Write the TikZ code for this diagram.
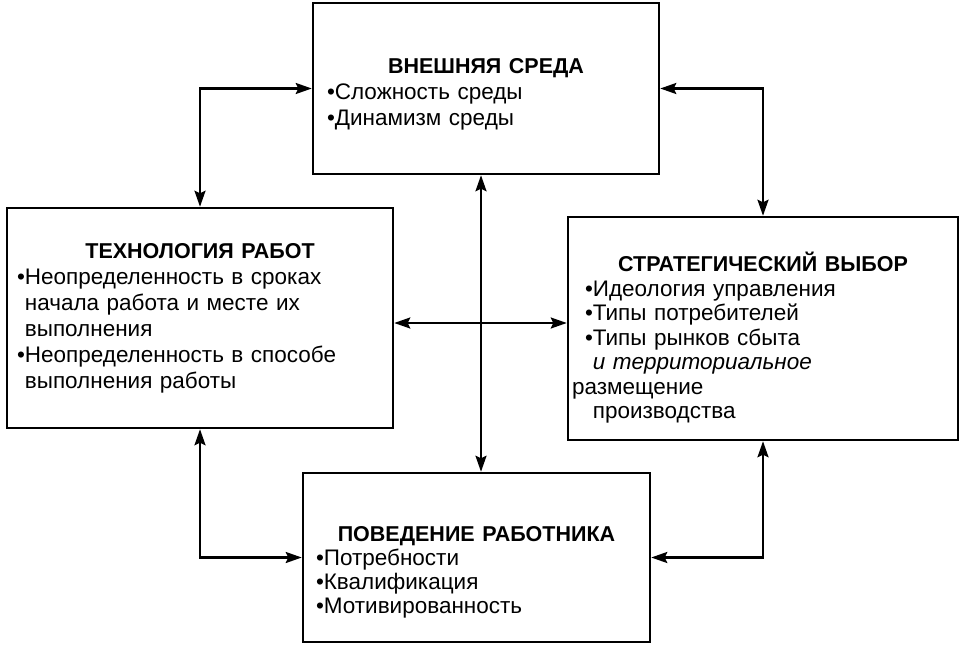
\documentclass[tikz,border=0pt]{standalone}
\usepackage{fontspec}
\setmainfont{Liberation Sans}
\usepackage{tikz}
\usetikzlibrary{arrows.meta, positioning, calc}
\definecolor{myink}{RGB}{0,0,0}
\newcommand{\boxttl}[1]{\hspace*{\fill}{\fontsize{21.5}{26}\selectfont\bfseries #1}\hspace*{\fill}\mbox{}}
\newcommand{\blt}{•}
\newcommand{\hang}{\phantom{•}}
\tikzset{
  block/.style={rectangle, draw=myink, line width=2.5pt, align=left,
    font=\fontsize{22.5}{26}\selectfont, inner ysep=4pt},
  link/.style={{Stealth[length=16pt,width=11pt,inset=2.5pt]}-{Stealth[length=16pt,width=11pt,inset=2.5pt]},
    line width=2.2pt, color=myink}
}
\begin{document}
\begin{tikzpicture}[x=1pt, y=-1pt]
  \useasboundingbox (0,0) rectangle (961,650);
  \node [block, text width=318pt, minimum height=171pt, inner xsep=14pt] (env) at (486,88.5)
    {\mbox{}\\[1pt]
     \boxttl{ВНЕШНЯЯ СРЕДА}\\
     \blt Сложность среды\\
     \blt Динамизм среды};
  \node [block, text width=366pt, minimum height=220pt, inner xsep=10pt] (tech) at (200,318)
    {\boxttl{ТЕХНОЛОГИЯ РАБОТ}\\
     \blt Неопределенность в сроках\\
     \hang начала работа и месте их\\
     \hang выполнения\\
     \blt Неопределенность в способе\\
     \hang выполнения работы};
  \node [block, text width=382pt, minimum height=223pt, inner xsep=4pt,
    font=\fontsize{22.5}{24.5}\selectfont] (strat) at (763,328.5)
    {\mbox{}\\[14pt]
     \boxttl{СТРАТЕГИЧЕСКИЙ ВЫБОР}\\
     \hspace*{13pt}\blt Идеология управления\\
     \hspace*{13pt}\blt Типы потребителей\\
     \hspace*{13pt}\blt Типы рынков сбыта\\
     \hspace*{13pt}\hang\textit{и территориальное}\\
     размещение\\
     \hspace*{13pt}\hang производства};
  \node [block, text width=321pt, minimum height=169pt, inner xsep=13pt,
    font=\fontsize{22.5}{24}\selectfont] (beh) at (476.5,557.5)
    {\mbox{}\\[20pt]
     \boxttl{ПОВЕДЕНИЕ РАБОТНИКА}\\
     \blt Потребности\\
     \blt Квалификация\\
     \blt Мотивированность};

  \coordinate (mid) at (481,323);

  \draw [link] (env.west) -| (tech.north);
  \draw [link] (env.east) -| (strat.north);
  \draw [link] (env.south -| mid) -- (beh.north -| mid);
  \draw [link] (tech.east |- mid) -- (strat.west |- mid);
  \draw [link] (tech.south) |- (beh.west);
  \draw [link] (strat.south) |- (beh.east);
\end{tikzpicture}
\end{document}
